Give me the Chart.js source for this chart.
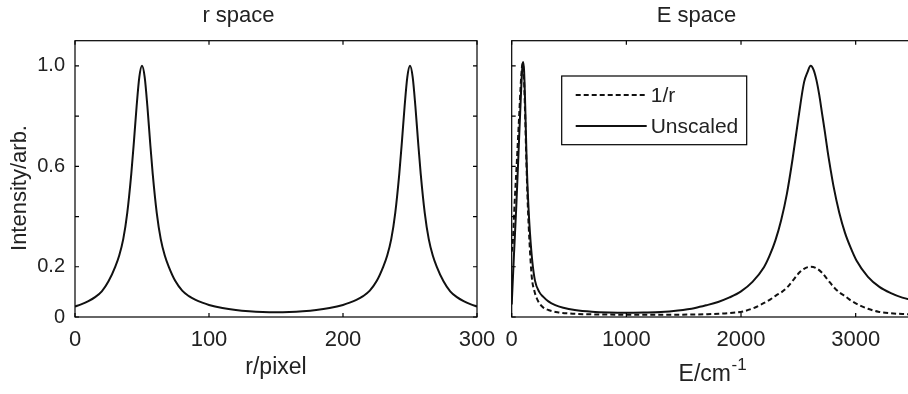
<!DOCTYPE html>
<html><head><meta charset="utf-8">
<script src="https://cdn.jsdelivr.net/npm/chart.js@4"></script>
<style>
html,body{margin:0;padding:0;background:#fff;overflow:hidden;width:908px;height:394px;position:relative;}
#c1{position:absolute;left:0;top:0;}
#c2{position:absolute;left:480px;top:0;}
</style></head><body>
<canvas id="c1" width="500" height="394"></canvas>
<canvas id="c2" width="440" height="394"></canvas>
<script>
// ---- data ----
const rPixel = [0,5,10,15,20,25,30,33,36,39,42,44,46,48,50,52,54,56,58,61,64,67,70,75,80,85,90,95,100,110,120,130,140,150,
  160,170,180,190,200,205,210,215,220,225,230,233,236,239,242,244,246,248,250,252,254,256,258,261,264,267,270,275,280,285,290,295,300];
const rIntensity = [0.042,0.051,0.063,0.079,0.102,0.142,0.2,0.245,0.31,0.415,0.57,0.70,0.84,0.955,1.0,0.955,0.84,0.70,0.57,0.415,0.31,0.245,0.2,0.142,0.105,0.083,0.068,0.057,0.048,0.036,0.028,0.023,0.02,0.019,
  0.02,0.023,0.028,0.036,0.048,0.057,0.068,0.083,0.105,0.142,0.2,0.245,0.31,0.415,0.57,0.70,0.84,0.955,1.0,0.955,0.84,0.70,0.57,0.415,0.31,0.245,0.2,0.142,0.102,0.079,0.063,0.051,0.042];

const eUnscaled = [0,20,40,60,80,92,99,108,118,131,145,160,180,203,240,276,320,380,450,550,700,850,1000,1150,1300,1450,1600,1700,1800,1900,2000,2100,2200,2250,2300,2350,2400,2450,2500,2550,2580,2607,2632,2657,2682,2707,2732,2757,2782,2807,2857,2907,2957,3007,3107,3207,3307,3407,3500];
const iUnscaled = [0.05,0.25,0.44,0.66,0.88,0.99,1.015,0.98,0.84,0.61,0.45,0.33,0.22,0.145,0.1,0.08,0.062,0.047,0.037,0.028,0.021,0.018,0.017,0.018,0.02,0.026,0.036,0.047,0.06,0.078,0.102,0.14,0.198,0.245,0.305,0.385,0.49,0.63,0.79,0.935,0.975,1.0,0.985,0.945,0.885,0.81,0.735,0.655,0.585,0.52,0.415,0.335,0.275,0.225,0.16,0.12,0.095,0.077,0.066];

const eInvR = [0,10,25,45,65,82,95,105,115,128,140,155,175,200,232,270,320,400,500,650,800,1000,1200,1400,1600,1707,1807,1907,2017,2107,2177,2257,2307,2357,2407,2457,2507,2557,2607,2657,2707,2757,2807,2857,2907,2957,3037,3107,3197,3307,3407,3500];
const iInvR = [0.26,0.3,0.45,0.62,0.8,0.95,1.01,0.97,0.84,0.62,0.45,0.3,0.16,0.1,0.062,0.04,0.028,0.019,0.014,0.011,0.01,0.009,0.009,0.009,0.01,0.011,0.013,0.016,0.022,0.035,0.05,0.07,0.086,0.1,0.12,0.148,0.176,0.194,0.2,0.194,0.176,0.148,0.12,0.098,0.083,0.066,0.046,0.033,0.021,0.015,0.012,0.011];

const rTicks = [0,100,200,300];
const rTickLabels = ['0','100','200','300'];
const eTicks = [0,1000,2000,3000];
const eTickLabels = ['0','1000','2000','3000'];
const yTicks = [0,0.2,0.4,0.6,0.8,1.0];
const yTickLabels = ['0','0.2','','0.6','','1.0'];

// ---- styling ----
const FONT = "'Liberation Sans', Arial, Helvetica, sans-serif";
Chart.defaults.font.family = FONT;
Chart.defaults.color = '#222';
const INK = '#111';

const framePlugin = {
  id:'frame',
  afterDatasetsDraw(chart){
    const {ctx, chartArea:a, scales} = chart;
    ctx.save();
    ctx.strokeStyle = '#000'; ctx.lineWidth = 1.2;
    ctx.strokeRect(a.left, a.top, a.right-a.left, a.bottom-a.top);
    const tl = 4;
    ctx.beginPath();
    scales.x.ticks.forEach(t=>{
      const px = scales.x.getPixelForValue(t.value);
      ctx.moveTo(px,a.bottom); ctx.lineTo(px,a.bottom-tl);
      ctx.moveTo(px,a.top); ctx.lineTo(px,a.top+tl);
    });
    scales.y.ticks.forEach(t=>{
      const py = scales.y.getPixelForValue(t.value);
      ctx.moveTo(a.left,py); ctx.lineTo(a.left+tl,py);
      ctx.moveTo(a.right,py); ctx.lineTo(a.right-tl,py);
    });
    ctx.stroke();
    ctx.restore();
  }
};

const yTitle = {
  id:'yTitle',
  afterDraw(chart){
    const {ctx} = chart;
    ctx.save();
    ctx.translate(20, 188);
    ctx.rotate(-Math.PI/2);
    ctx.fillStyle = '#222'; ctx.font = "22px " + FONT;
    ctx.textAlign = 'center'; ctx.textBaseline = 'middle';
    ctx.fillText('Intensity/arb.', 0, 0);
    ctx.restore();
  }
};

const legendBox = {
  id:'legendBox',
  afterDraw(chart){
    const {ctx, chartArea:a} = chart;
    const bx = a.left+50, by = a.top+35.3, bw = 185, bh = 68.7;
    ctx.save();
    ctx.fillStyle = '#fff'; ctx.fillRect(bx,by,bw,bh);
    ctx.strokeStyle = '#000'; ctx.lineWidth = 1.2; ctx.strokeRect(bx,by,bw,bh);
    chart.data.datasets.forEach((ds,i)=>{
      const y = by + 19 + i*31;
      ctx.beginPath();
      ctx.setLineDash(ds.borderDash || []);
      ctx.lineWidth = ds.borderWidth; ctx.strokeStyle = ds.borderColor;
      ctx.moveTo(bx+14,y); ctx.lineTo(bx+85,y); ctx.stroke();
      ctx.setLineDash([]);
      ctx.fillStyle = '#222'; ctx.font = "21px " + FONT;
      ctx.textBaseline = 'middle'; ctx.textAlign = 'left';
      ctx.fillText(ds.label, bx+89, y+1);
    });
    ctx.restore();
  }
};

const eTitle = {
  id:'eTitle',
  afterDraw(chart){
    const {ctx, chartArea:a} = chart;
    const cx = (a.left + a.right)/2;
    ctx.save();
    ctx.fillStyle = '#222'; ctx.textBaseline = 'alphabetic'; ctx.textAlign = 'left';
    ctx.font = "23px " + FONT;
    const main = 'E/cm', sup = '-1';
    const w1 = ctx.measureText(main).width;
    ctx.font = "17px " + FONT;
    const w2 = ctx.measureText(sup).width;
    const x0 = cx - (w1 + w2)/2;
    ctx.font = "23px " + FONT;
    ctx.fillText(main, x0, 381);
    ctx.font = "17px " + FONT;
    ctx.fillText(sup, x0 + w1 + 0.5, 370);
    ctx.restore();
  }
};

function xScale(min,max,ticks,labels,title){
  return {
    type:'linear', min, max,
    afterBuildTicks: s => { s.ticks = ticks.map(v=>({value:v})); },
    afterFit: s => { s.height = 77; s.paddingLeft = 0; s.paddingRight = 0; },
    grid:{display:false, drawTicks:false}, border:{display:false},
    ticks:{padding:10, font:{size:22}, color:'#222', maxRotation:0, autoSkip:false,
      callback:(v,i)=>labels[i]},
    title: title ? {display:true, text:title, font:{size:23}, color:'#222', padding:{top:0,bottom:12.5}} : {display:false}
  };
}
function yScale(width, showLabels){
  return {
    type:'linear', min:0, max:1.1,
    afterBuildTicks: s => { s.ticks = yTicks.map(v=>({value:v})); },
    afterFit: s => { s.width = width; s.paddingTop = 0; s.paddingBottom = 0; },
    grid:{display:false, drawTicks:false}, border:{display:false},
    ticks:{display:showLabels, padding:10, font:{size:20}, color:'#222', autoSkip:false,
      callback:(v,i)=>yTickLabels[i]},
    title:{display:false}
  };
}

new Chart(document.getElementById('c1'), {
  type:'line',
  data:{datasets:[{
    label:'Intensity',
    data: rPixel.map((x,i)=>({x, y:rIntensity[i]})),
    borderColor:INK, borderWidth:2, pointRadius:0, fill:false,
    cubicInterpolationMode:'monotone'
  }]},
  options:{
    responsive:false, animation:false, devicePixelRatio:1,
    layout:{padding:{left:0,right:23,top:0,bottom:0}},
    plugins:{
      legend:{display:false}, tooltip:{enabled:false},
      title:{display:true, text:'r space', font:{size:22, weight:'normal'}, color:'#222', padding:{top:3,bottom:11.3}}
    },
    scales:{ x: xScale(0,300,rTicks,rTickLabels,'r/pixel'), y: yScale(75,true) }
  },
  plugins:[framePlugin, yTitle]
});

new Chart(document.getElementById('c2'), {
  type:'line',
  data:{datasets:[
    { label:'1/r', data: eInvR.map((x,i)=>({x, y:iInvR[i]})),
      borderColor:INK, borderWidth:2, borderDash:[5,3], pointRadius:0, fill:false, cubicInterpolationMode:'monotone' },
    { label:'Unscaled', data: eUnscaled.map((x,i)=>({x, y:iUnscaled[i]})),
      borderColor:INK, borderWidth:2, pointRadius:0, fill:false, cubicInterpolationMode:'monotone' }
  ]},
  options:{
    responsive:false, animation:false, devicePixelRatio:1,
    layout:{padding:{left:0,right:7,top:0,bottom:0}},
    plugins:{
      legend:{display:false}, tooltip:{enabled:false},
      title:{display:true, text:'E space', font:{size:22, weight:'normal'}, color:'#222', padding:{top:3,bottom:11.3}}
    },
    scales:{ x: xScale(0,3500,eTicks,eTickLabels,null), y: yScale(31.7,false) }
  },
  plugins:[framePlugin, legendBox, eTitle]
});
</script>
</body></html>
